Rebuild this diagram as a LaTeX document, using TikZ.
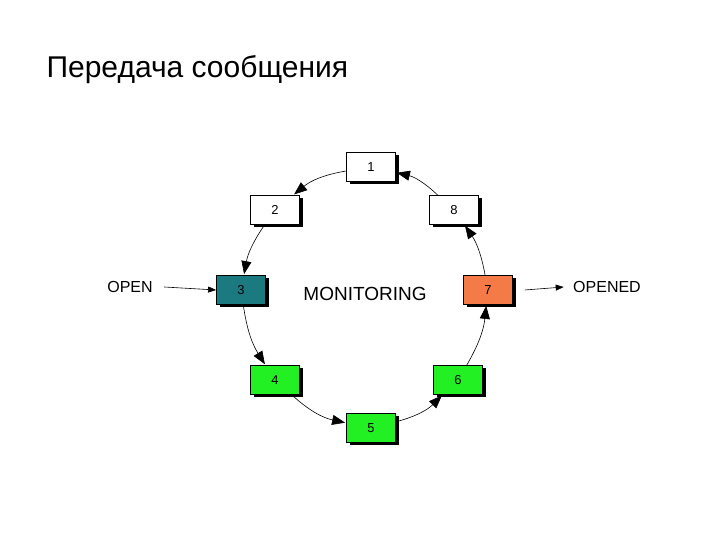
\documentclass[tikz,border=0pt]{standalone}
\usepackage{fontspec}
\setmainfont{Liberation Sans}
\usetikzlibrary{arrows.meta,shadows}
\definecolor{teal3}{HTML}{1B7A80}
\definecolor{org7}{HTML}{F47B48}
\definecolor{grn}{HTML}{22F022}
\tikzset{
 box/.style={draw=black,line width=0.8pt,minimum width=49pt,minimum height=29pt,inner sep=0pt,font=\fontsize{13}{15}\selectfont,
   drop shadow={shadow xshift=3pt,shadow yshift=-3pt,opacity=1,fill=black}},
 ring/.style={line width=0.6pt,-{Triangle[length=13pt,width=10pt]},shorten >=1pt},
 lab/.style={font=\fontsize{16}{18}\selectfont},
 plain/.style={line width=0.6pt,-{Triangle[length=8pt,width=6pt]}}
}
\begin{document}
\begin{tikzpicture}[x=1pt,y=1pt]
\useasboundingbox (0,0) rectangle (720,540);
\node[anchor=west,font=\fontsize{30}{34}\selectfont] (title) at (43,470) {Передача сообщения};
\node[box,fill=white] (n1) at (371,373) {1};
\node[box,fill=white] (n2) at (275,330) {2};
\node[box,fill=white] (n8) at (454,330) {8};
\node[box,fill=teal3] (n3) at (241,250) {3};
\node[box,fill=org7] (n7) at (488,250) {7};
\node[box,fill=grn] (n4) at (275,160) {4};
\node[box,fill=grn] (n6) at (458,160) {6};
\node[box,fill=grn] (n5) at (371,112) {5};
\node[font=\fontsize{19}{22}\selectfont] (mon) at (365,246) {MONITORING};
\node[lab] (open) at (130,253) {OPEN};
\node[lab] (opened) at (607,253) {OPENED};
\draw[ring] (n1) to[bend right=15] (n2);
\draw[ring] (n2) to[bend right=12] (n3);
\draw[ring] (n3) to[bend right=12] (n4);
\draw[ring] (n4) to[bend right=15] (n5);
\draw[ring] (n5) to[bend right=15] (n6);
\draw[ring] (n6) to[bend right=12] (n7);
\draw[ring] (n7) to[bend right=12] (n8);
\draw[ring] (n8) to[bend right=15] (n1);
\draw[plain] (open.east)++(8,0) coordinate (oa) -- (n3.west);
\draw[plain] (n7.east)++(12,0) coordinate (ob) -- ([xshift=-6pt]opened.west);
\end{tikzpicture}
\end{document}
